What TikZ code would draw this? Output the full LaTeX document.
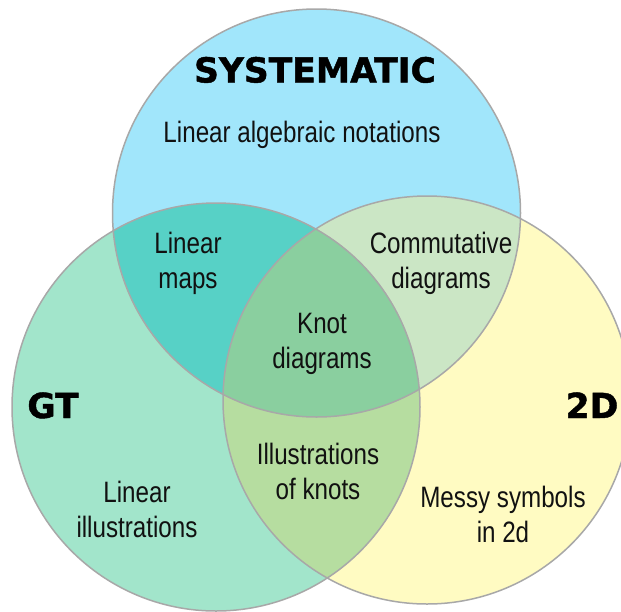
\documentclass[tikz,border=0pt]{standalone}
\usepackage{fontspec}
\setmainfont{Liberation Sans}
\newfontfamily\narrowfont[FakeStretch=0.82]{Liberation Sans}
\newfontfamily\heavyfont[BoldFeatures={FakeBold=1.3}]{DejaVu Sans}
\definecolor{topcol}{HTML}{A1E6FB}
\definecolor{leftcol}{HTML}{A2E5CB}
\definecolor{rightcol}{HTML}{FFFBC2}
\definecolor{tlcol}{HTML}{57D1C6}
\definecolor{trcol}{HTML}{CBE6C5}
\definecolor{lrcol}{HTML}{B6DDA0}
\definecolor{allcol}{HTML}{8ACF9F}
\definecolor{ringgray}{HTML}{A8A8A8}
\definecolor{textcol}{HTML}{111111}
\begin{document}
\begin{tikzpicture}[x=1pt,y=-1pt,
  ring/.style={draw=ringgray, line width=1.5pt},
  lbl/.style={font=\narrowfont\fontsize{29.5}{35}\selectfont, text=textcol, align=center, inner sep=0pt, anchor=base},
  heading/.style={font=\heavyfont\bfseries\fontsize{34.5}{40}\selectfont, text=black, inner sep=0pt, anchor=base}]
\useasboundingbox (0,0) rectangle (621,611);
\fill[white] (0,0) rectangle (621,611);
\coordinate (cT) at (316.5,213);
\coordinate (cL) at (216,407);
\coordinate (cR) at (427,400);
\begin{scope}
\clip (0,0) rectangle (621,611);
\fill[topcol] (cT) circle[radius=204pt];
\fill[leftcol] (cL) circle[radius=204pt];
\fill[rightcol] (cR) circle[radius=204pt];
\begin{scope}
\clip (cT) circle[radius=204pt];
\fill[tlcol] (cL) circle[radius=204pt];
\end{scope}
\begin{scope}
\clip (cT) circle[radius=204pt];
\fill[trcol] (cR) circle[radius=204pt];
\end{scope}
\begin{scope}
\clip (cL) circle[radius=204pt];
\fill[lrcol] (cR) circle[radius=204pt];
\end{scope}
\begin{scope}
\clip (cT) circle[radius=204pt];
\clip (cL) circle[radius=204pt];
\fill[allcol] (cR) circle[radius=204pt];
\end{scope}
\draw[ring] (cT) circle[radius=204pt];
\draw[ring] (cL) circle[radius=204pt];
\draw[ring] (cR) circle[radius=204pt];
\end{scope}
\node[heading] (sys) at (315,82.5) {SYSTEMATIC};
\node[heading] (gt) at (53,418) {GT};
\node[heading] (twod) at (592,418) {2D};
\node[lbl] (lan) at (302,142.3) {Linear algebraic notations};
\node[lbl] (lm) at (188,288) {Linear\\maps};
\node[lbl] (cd) at (441,288) {Commutative\\diagrams};
\node[lbl] (kd) at (322,368.3) {Knot\\diagrams};
\node[lbl] (ik) at (318,499.5) {Illustrations\\of knots};
\node[lbl] (li) at (137,537) {Linear\\illustrations};
\node[lbl] (ms) at (503,542.3) {Messy symbols\\in 2d};
\end{tikzpicture}
\end{document}
